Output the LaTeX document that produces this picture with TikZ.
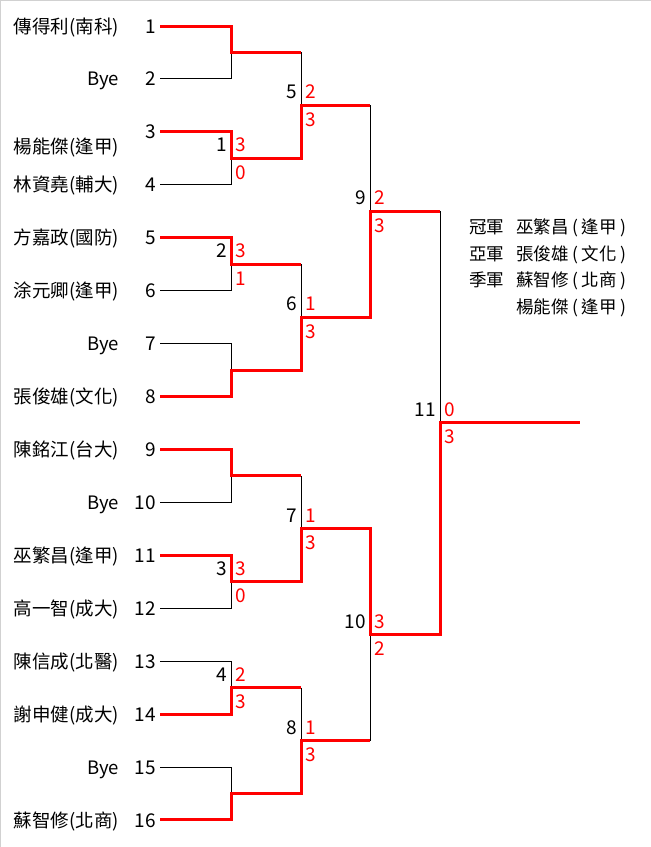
\documentclass[tikz,border=0pt]{standalone}
\usepackage{fontspec}
\setmainfont{Noto Sans CJK TC}
\begin{document}
\begin{tikzpicture}[x=1pt,y=-1pt,
  lose/.style={draw=black,line width=1pt},
  win/.style={draw=red,line width=3pt},
  lbl/.style={inner sep=0pt,font=\fontsize{19}{21}\selectfont},
  pname/.style={inner sep=0pt,anchor=base east,font=\fontsize{18.5}{21}\selectfont},
  pnum/.style={lbl,anchor=base east},
  mno/.style={lbl,anchor=base east},
  sc/.style={lbl,anchor=base west,text=red},
  res/.style={inner sep=0pt,anchor=base west,font=\fontsize{17.5}{20}\selectfont}]
\useasboundingbox (0,0) rectangle (651,847);
\fill[white] (0,0) rectangle (651,847);
\draw[line width=1pt,draw=black!18] (0.5,847) -- (0.5,0.5) -- (651,0.5);

% player names
\node[pname] (n1)  at (119,33)    {傳得利(南科)};
\node[pname] (n2)  at (119,85.9)  {Bye};
\node[pname] (n3)  at (119,153)   {楊能傑(逢甲)};
\node[pname] (n4)  at (119,191.8) {林資堯(輔大)};
\node[pname] (n5)  at (119,244.7) {方嘉政(國防)};
\node[pname] (n6)  at (119,297.7) {涂元卿(逢甲)};
\node[pname] (n7)  at (119,350.6) {Bye};
\node[pname] (n8)  at (119,403.5) {張俊雄(文化)};
\node[pname] (n9)  at (119,456.4) {陳銘江(台大)};
\node[pname] (n10) at (119,509.4) {Bye};
\node[pname] (n11) at (119,562.3) {巫繁昌(逢甲)};
\node[pname] (n12) at (119,615.2) {高一智(成大)};
\node[pname] (n13) at (119,668.2) {陳信成(北醫)};
\node[pname] (n14) at (119,721.1) {謝申健(成大)};
\node[pname] (n15) at (119,774)   {Bye};
\node[pname] (n16) at (119,827)   {蘇智修(北商)};

% player numbers
\node[pnum] (k1)  at (156,33)    {1};
\node[pnum] (k2)  at (156,85.9)  {2};
\node[pnum] (k3)  at (156,138.9) {3};
\node[pnum] (k4)  at (156,191.8) {4};
\node[pnum] (k5)  at (156,244.7) {5};
\node[pnum] (k6)  at (156,297.7) {6};
\node[pnum] (k7)  at (156,350.6) {7};
\node[pnum] (k8)  at (156,403.5) {8};
\node[pnum] (k9)  at (156,456.4) {9};
\node[pnum] (k10) at (156,509.4) {10};
\node[pnum] (k11) at (156,562.3) {11};
\node[pnum] (k12) at (156,615.2) {12};
\node[pnum] (k13) at (156,668.2) {13};
\node[pnum] (k14) at (156,721.1) {14};
\node[pnum] (k15) at (156,774)   {15};
\node[pnum] (k16) at (156,827)   {16};

% line start points
\coordinate (p1)  at (160,26);
\coordinate (p2)  at (160,78.93);
\coordinate (p3)  at (160,131.86);
\coordinate (p4)  at (160,184.79);
\coordinate (p5)  at (160,237.72);
\coordinate (p6)  at (160,290.65);
\coordinate (p7)  at (160,343.58);
\coordinate (p8)  at (160,396.51);
\coordinate (p9)  at (160,449.44);
\coordinate (p10) at (160,502.37);
\coordinate (p11) at (160,555.3);
\coordinate (p12) at (160,608.23);
\coordinate (p13) at (160,661.16);
\coordinate (p14) at (160,714.09);
\coordinate (p15) at (160,767.02);
\coordinate (p16) at (160,819.95);

% junctions
\coordinate (ja) at (231,52.47);
\coordinate (jb) at (231,158.33);
\coordinate (jc) at (231,264.19);
\coordinate (jd) at (231,370.05);
\coordinate (je) at (231,475.91);
\coordinate (jf) at (231,581.77);
\coordinate (jg) at (231,687.63);
\coordinate (jh) at (231,793.49);
\coordinate (ka) at (301,105.4);
\coordinate (kb) at (301,317.12);
\coordinate (kc) at (301,528.84);
\coordinate (kd) at (301,740.56);
\coordinate (la) at (370,211.26);
\coordinate (lb) at (370,634.7);
\coordinate (m)  at (440,422.98);
\coordinate (champ) at (580,422.98);

% losing lines
\draw[lose] (p2) -| (ja);
\draw[lose] (p4) -| (jb);
\draw[lose] (p6) -| (jc);
\draw[lose] (p7) -| (jd);
\draw[lose] (p10) -| (je);
\draw[lose] (p12) -| (jf);
\draw[lose] (p13) -| (jg);
\draw[lose] (p15) -| (jh);
\draw[lose] (ja -| ka) -- (ka);
\draw[lose] (jc -| kb) -- (kb);
\draw[lose] (je -| kc) -- (kc);
\draw[lose] (jg -| kd) -- (kd);
\draw[lose] (ka -| la) -- (la);
\draw[lose] (kd -| lb) -- (lb);
\draw[lose] (la -| m) -- (m);

% winning paths
\draw[win] (p1) -| (ja) -- (ja -| ka);
\draw[win] (p3) -| (jb) -| (ka) -- (ka -| la);
\draw[win] (p5) -| (jc) -- (jc -| kb);
\draw[win] (p8) -| (jd) -| (kb) -| (la) -- (la -| m);
\draw[win] (p9) -| (je) -- (je -| kc);
\draw[win] (p11) -| (jf) -| (kc) -| (lb) -| (m) -- (champ);
\draw[win] (p14) -| (jg) -- (jg -| kd);
\draw[win] (p16) -| (jh) -| (kd) -- (kd -| lb);

% match numbers and scores
\node[mno] (m1) at ([shift={(-4,-6.5)}]jb) {1};
\node[sc] (s1a) at ([shift={(4,-6.5)}]jb) {3};
\node[sc] (s1b) at ([shift={(4,21)}]jb) {0};
\node[mno] (m2) at ([shift={(-4,-6.5)}]jc) {2};
\node[sc] (s2a) at ([shift={(4,-6.5)}]jc) {3};
\node[sc] (s2b) at ([shift={(4,21)}]jc) {1};
\node[mno] (m3) at ([shift={(-4,-6.5)}]jf) {3};
\node[sc] (s3a) at ([shift={(4,-6.5)}]jf) {3};
\node[sc] (s3b) at ([shift={(4,21)}]jf) {0};
\node[mno] (m4) at ([shift={(-4,-6.5)}]jg) {4};
\node[sc] (s4a) at ([shift={(4,-6.5)}]jg) {2};
\node[sc] (s4b) at ([shift={(4,21)}]jg) {3};
\node[mno] (m5) at ([shift={(-4,-6.5)}]ka) {5};
\node[sc] (s5a) at ([shift={(4,-6.5)}]ka) {2};
\node[sc] (s5b) at ([shift={(4,21)}]ka) {3};
\node[mno] (m6) at ([shift={(-4,-6.5)}]kb) {6};
\node[sc] (s6a) at ([shift={(4,-6.5)}]kb) {1};
\node[sc] (s6b) at ([shift={(4,21)}]kb) {3};
\node[mno] (m7) at ([shift={(-4,-6.5)}]kc) {7};
\node[sc] (s7a) at ([shift={(4,-6.5)}]kc) {1};
\node[sc] (s7b) at ([shift={(4,21)}]kc) {3};
\node[mno] (m8) at ([shift={(-4,-6.5)}]kd) {8};
\node[sc] (s8a) at ([shift={(4,-6.5)}]kd) {1};
\node[sc] (s8b) at ([shift={(4,21)}]kd) {3};
\node[mno] (m9) at ([shift={(-4,-6.5)}]la) {9};
\node[sc] (s9a) at ([shift={(4,-6.5)}]la) {2};
\node[sc] (s9b) at ([shift={(4,21)}]la) {3};
\node[mno] (m10) at ([shift={(-4,-6.5)}]lb) {10};
\node[sc] (s10a) at ([shift={(4,-6.5)}]lb) {3};
\node[sc] (s10b) at ([shift={(4,21)}]lb) {2};
\node[mno] (m11) at ([shift={(-4,-6.5)}]m) {11};
\node[sc] (s11a) at ([shift={(4,-6.5)}]m) {0};
\node[sc] (s11b) at ([shift={(4,21)}]m) {3};

% results
\newcommand{\lp}{\hspace{3.5pt}(\hspace{3.5pt}}
\newcommand{\rp}{\hspace{3.5pt})}
\node[res] (t1) at (469,233.5) {冠軍};
\node[res] (r1) at (516,233.5) {巫繁昌\lp 逢甲\rp};
\node[res] (t2) at (469,260)   {亞軍};
\node[res] (r2) at (516,260)   {張俊雄\lp 文化\rp};
\node[res] (t3) at (469,286.5) {季軍};
\node[res] (r3) at (516,286.5) {蘇智修\lp 北商\rp};
\node[res] (r4) at (516,313)   {楊能傑\lp 逢甲\rp};
\end{tikzpicture}
\end{document}
